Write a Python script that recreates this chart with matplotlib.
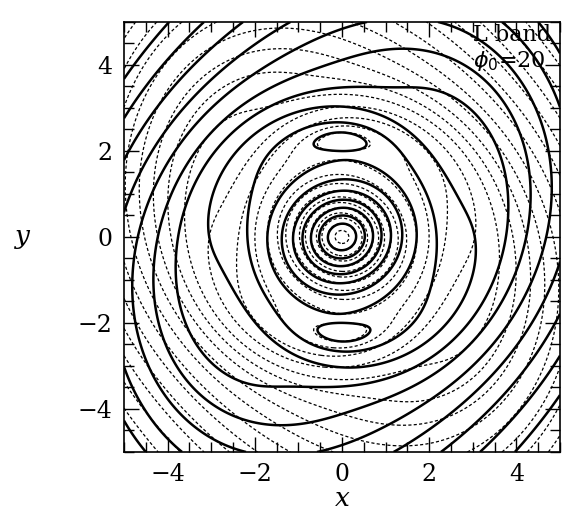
import numpy as np
import matplotlib
matplotlib.use("Agg")
import matplotlib.pyplot as plt
from matplotlib.ticker import MultipleLocator

# --- field parameters ---
peak_height = 8.0          # central maximum (solid field)
peak_width = [1.15, 1.08]  # inner oval half-axes
peak_tilt = 20.0           # deg
lens_radius = 2.3          # lenses at (0, +-2.3)
lens_amp = 1.0
lens_width = 0.28
lens_angle = 90.0          # deg, where the lenses sit
wave_radius = 2.9          # broad two-armed ripple around the core
wave_amp = 0.85
wave_width = 0.9
wave_angle = 110.0
wave_twist = 0.45          # rad per unit radius
outer_start = 2.55
outer_slope = 1.75
outer_axes = [1.15, 0.87]  # ellipse of the outer slope
outer_angle = 16.0         # deg, major axis at r = 0
spiral_twist = 0.12        # rad per unit radius
dot_scale = 1.5

solid_levels = [-8, -7, -6, -5, -4, -3, -2, -1, 0.0, 1, 2, 3, 4, 5, 6, 7]
dot_levels = [-12.5, -11.5, -10.5, -9.5, -8.5, -7.5, -6.5, -5.5, -4.5, -3.5,
              -2.5, -1.5, -0.5, 0.5, 1.5, 2.5, 3.5, 4.5, 5.5, 6.5, 7.5, 8.5,
              9.5, 10.5, 11.5]

xticks = [-4, -2, 0, 2, 4]
yticks = [-4, -2, 0, 2, 4]
label1 = "L band"
label2 = r"$\phi_0$=20"


def field(x, y):
    r = np.hypot(x, y)
    th = np.arctan2(y, x)
    # spiral: turn the frame with radius
    tw = spiral_twist*r
    xs = r*np.cos(th - tw)
    ys = r*np.sin(th - tw)
    t = np.deg2rad(peak_tilt)
    u = x*np.cos(t) + y*np.sin(t)
    v = -x*np.sin(t) + y*np.cos(t)
    re = np.hypot(u/peak_width[0], v/peak_width[1])
    pk = peak_height*np.exp(-re**1.6)
    phi = th - np.deg2rad(lens_angle)
    lens = lens_amp*np.exp(-((r - lens_radius)/lens_width)**2) * \
        np.exp(3*(np.cos(2*phi) - 1))
    wave = wave_amp*np.exp(-((r - wave_radius)/wave_width)**2) * \
        np.cos(2*(th - np.deg2rad(wave_angle) - wave_twist*(r - lens_radius)))
    d = np.deg2rad(outer_angle)
    p = xs*np.cos(d) + ys*np.sin(d)
    q = -xs*np.sin(d) + ys*np.cos(d)
    ro = np.hypot(p/outer_axes[0], q/outer_axes[1])
    out = -outer_slope*np.log1p(np.exp(3*(ro - outer_start)))/3
    return pk + lens + wave + out


x = np.linspace(-5, 5, 401)
X, Y = np.meshgrid(x, x)
S = field(X, Y)
D = dot_scale*field(-X, Y)   # dotted: the mirrored pattern

fig = plt.figure(figsize=(5.7, 5.2), dpi=100)
ax = fig.add_axes([0.2175, 0.1308, 0.765, 0.827])
ax.contour(X, Y, D, levels=dot_levels, colors="k", linewidths=0.9,
           linestyles=[(0, (2.5, 1.8))])
ax.contour(X, Y, S, levels=solid_levels, colors="k", linewidths=1.8,
           linestyles="solid")

ax.set_xlim(-5, 5)
ax.set_ylim(-5, 5)
ax.set_xticks(xticks)
ax.set_yticks(yticks)
ax.set_xticklabels([str(v).replace("-", "\u2212") for v in xticks])
ax.set_yticklabels([str(v).replace("-", "\u2212") for v in yticks])
ax.xaxis.set_minor_locator(MultipleLocator(0.5))
ax.yaxis.set_minor_locator(MultipleLocator(0.5))
ax.tick_params(which="both", direction="in", top=True, right=True,
               labelsize=17, width=1)
ax.tick_params(which="major", length=11, pad=8)
ax.tick_params(which="minor", length=7)
for lab in ax.get_xticklabels() + ax.get_yticklabels():
    lab.set_family("DejaVu Serif")
for s in ax.spines.values():
    s.set_linewidth(1.2)

ax.set_xlabel("x", fontsize=19, family="DejaVu Serif", style="italic",
              labelpad=0)
ax.set_ylabel("y", fontsize=19, family="DejaVu Serif", style="italic",
              rotation=0, labelpad=40, va="center")
ax.text(3.0, 4.55, label1, fontsize=16, family="DejaVu Serif")
ax.text(3.0, 3.95, label2, fontsize=16, family="DejaVu Serif")

fig.savefig("out.png", dpi=100)
